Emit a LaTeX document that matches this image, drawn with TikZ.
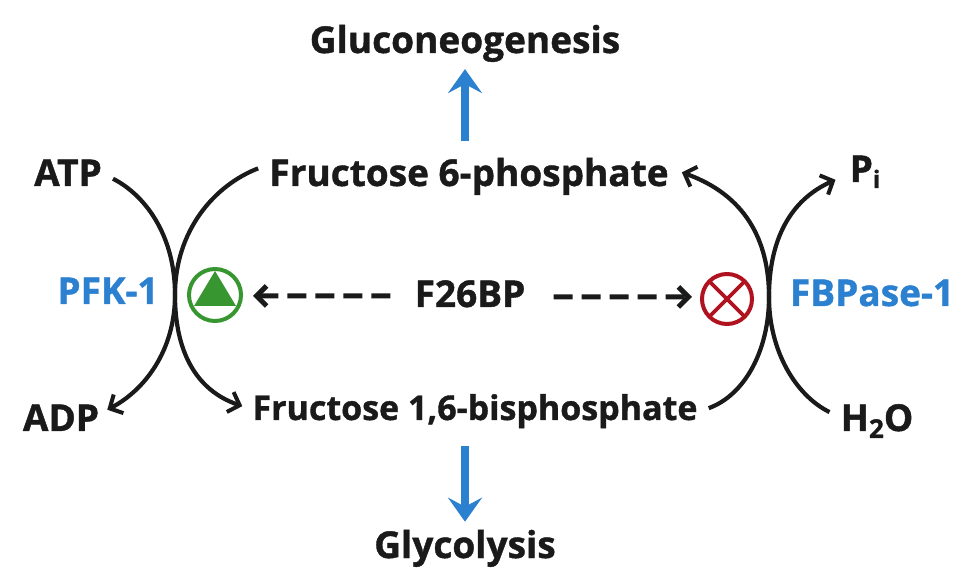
\documentclass[tikz,border=0pt]{standalone}
\usepackage{fontspec}
\setmainfont{Open Sans}[BoldFeatures={FakeBold=1.1}]
\usetikzlibrary{arrows.meta}
\definecolor{kblue}{HTML}{2B80D0}
\definecolor{kgreen}{HTML}{37962F}
\definecolor{kred}{HTML}{B0121F}
\definecolor{kink}{HTML}{1A1A1A}
\tikzset{
  x=1pt,y=-1pt,
  lab/.style={font=\fontsize{37}{37}\selectfont\bfseries,text=kink,anchor=base,inner sep=0pt},
  lablong/.style={lab,font=\fontsize{34}{34}\selectfont\bfseries},
  enz/.style={lab,text=kblue},
  barb/.style={-{Straight Barb[length=10pt,width=21pt,line width=4pt]}},
  dashbarb/.style={-{Straight Barb[length=10pt,width=20pt,line width=5pt]}},
  curve/.style={draw=kink,line width=4.2pt},
  dashline/.style={draw=kink,line width=5pt,dash pattern=on 19pt off 9pt},
  flow/.style={draw=kblue,line width=7.5pt,-{Stealth[length=24pt,width=34pt,inset=9pt]}}
}
\begin{document}
\begin{tikzpicture}
\useasboundingbox (0,0) rectangle (970,585);
\node[lab] (gluco) at (465,53) {Gluconeogenesis};
\node[lab] (f6p) at (469,186) {Fructose 6-phosphate};
\node[lablong] (fbp) at (475,420) {Fructose 1,6-bisphosphate};
\node[lab] (glyco) at (465,558) {Glycolysis};
\node[lab] (atp) at (68,186) {ATP};
\node[lab] (adp) at (61,431) {ADP};
\node[enz] (pfk) at (108,304) {PFK-1};
\node[enz] (fbpase) at (872,306) {FBPase-1};
\node[lab] (f26) at (470,307) {F26BP};
\node[lab] (pi) at (865,182) {P\raisebox{-6pt}{\fontsize{24}{24}\selectfont i}};
\node[lab] (water) at (877,431) {H\raisebox{-7pt}{\fontsize{26}{26}\selectfont 2}O};
\coordinate (pfkmid) at (175,295);
\coordinate (fbpmid) at (769,297);
% activator
\node[circle,draw=kgreen,line width=4pt,minimum size=52pt,inner sep=0pt] (act) at (215,295) {};
\fill[kgreen] (215,271) -- (236,306) -- (194,306) -- cycle;
% inhibitor
\node[circle,draw=kred,line width=4pt,minimum size=50pt,inner sep=0pt] (inh) at (727,299) {};
\draw[kred,line width=3.6pt] (inh.center) ++(-17.5,-17.5) -- ++(35,35) ++(0,-35) -- ++(-35,35);
% curves
\draw[curve,barb] ([shift={(11,6)}]atp.east) .. controls (145,195) and (175,235) .. (pfkmid)
  .. controls (175,350) and (145,390) .. ([shift={(8,-8)}]adp.east);
\draw[curve,barb] ([shift={(-11,-8)}]f6p.west) .. controls (215,185) and (175,230) .. (pfkmid)
  .. controls (175,350) and (195,390) .. ([shift={(-10,-5)}]fbp.west);
\draw[curve,barb] ([shift={(11,-3)}]fbp.east) .. controls (745,395) and (769,350) .. (fbpmid)
  .. controls (769,240) and (745,195) .. ([shift={(13,-4)}]f6p.east);
\draw[curve] ([shift={(-11,-9)}]water.west) .. controls (795,395) and (769,350) .. (fbpmid);
\draw[curve,barb] (fbpmid) .. controls (769,240) and (790,200) .. ([shift={(-14,8)}]pi.west);
% dashed
\draw[dashline,dashbarb,shorten >=10pt] ([xshift=-24pt,yshift=-2pt]f26.west) -- (act.east |- 0,296);
\draw[dashline,dashbarb,shorten >=8pt] ([xshift=28pt,yshift=-3pt]f26.east) -- (inh.west |- 0,297);
% flow
\draw[flow] ([yshift=17pt]f6p.north -| gluco.south) -- ([yshift=-7pt]gluco.south);
\draw[flow] ([yshift=-18pt]fbp.south -| glyco.north) -- ([yshift=8pt]glyco.north);
\end{tikzpicture}
\end{document}
